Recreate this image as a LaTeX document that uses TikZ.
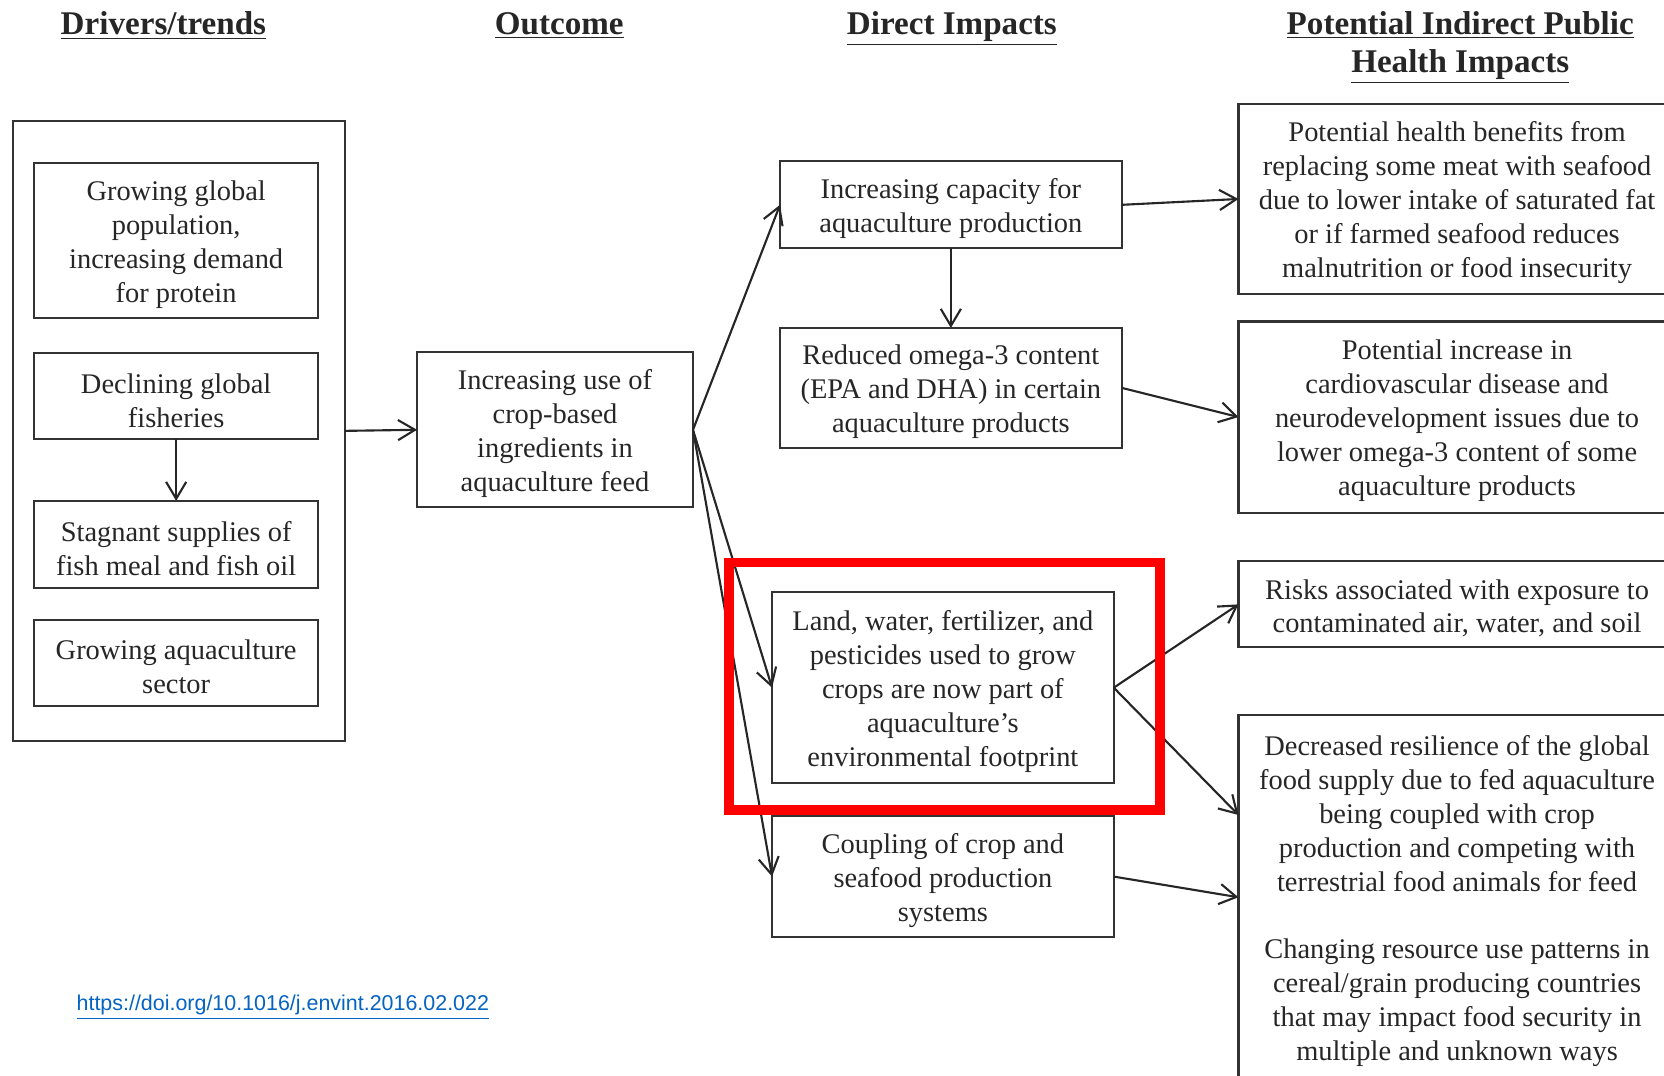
\documentclass[tikz,border=0pt]{standalone}
\usepackage{fontspec}
\setmainfont{Liberation Serif}
\newfontfamily\linkfont{Liberation Sans}
\usetikzlibrary{positioning,arrows.meta,calc}
\newcommand{\bodyfont}{\fontsize{13.4}{16}\selectfont}
\newcommand{\headfont}{\fontsize{15.6}{18}\selectfont\bfseries}
\newcommand{\lift}{\rule{0pt}{13pt}}
\def\driverwidth{134pt}
\def\directwidth{161pt}
\def\healthwidth{206pt}
\tikzstyle{signal}=[arrows={-Straight Barb[length=8pt,width=9.5pt]},draw=black!85,line width=1pt]
\tikzstyle{block}=[draw=black!80,line width=1.0pt]
\tikzstyle{box}=[style=block, inner sep=2pt, outer sep=0pt,
    font=\bodyfont, text=black!85, align=center]
\tikzstyle{driver}=[style=box, minimum width=\driverwidth]
\tikzstyle{outcome}=[style=box, minimum width=130pt]
\tikzstyle{direct}=[style=box, minimum width=\directwidth]
\tikzstyle{health}=[style=box, minimum width=\healthwidth]
\tikzstyle{heading}=[font=\headfont, text=black!85, align=center]
\colorlet{focus}{red}
\definecolor{link}{HTML}{0563C1}

\begin{document}
\begin{tikzpicture}[x=0.5pt, y=-0.5pt]
    \useasboundingbox (0,0) rectangle (1568,1013);
    \clip (0,0) rectangle (1568,1013);
    % headings
    \node[heading] (hdriver) at (154,24) {\underline{Drivers/trends}};
    \node[heading] (houtcome) at (527,24) {\underline{Outcome}};
    \node[heading] (hdirect) at (897,27) {\underline{Direct Impacts}};
    \node[heading] (hhealth) at (1376,45) {\underline{Potential Indirect Public}\\\underline{Health Impacts}};
    % drivers/trends
    \node[block, outer sep=0pt, minimum width=156.5pt, minimum height=292pt] (drivers) at (168.5,406) {};
    \node[driver, minimum height=73pt] (population) at (166,227) {\lift Growing global\\population,\\increasing demand\\for protein};
    \node[driver, minimum height=40.5pt, below=16.5pt of population] (fisheries) {\lift Declining global\\fisheries};
    \node[driver, minimum height=41pt, below=29pt of fisheries] (fishmeal) {\lift Stagnant supplies of\\fish meal and fish oil};
    \node[driver, minimum height=40.5pt, below=15pt of fishmeal] (sector) {\lift Growing aquaculture\\sector};
    % outcome
    \node[outcome, minimum height=73pt] (cropfeed) at (523,405) {\lift Increasing use of\\crop-based\\ingredients in\\aquaculture feed};
    % direct impacts
    \node[direct, minimum height=41pt] (capacity) at (896,193) {\lift Increasing capacity for\\aquaculture production};
    \node[direct, minimum height=56.5pt, below=37.5pt of capacity] (omega) {\lift Reduced omega-3 content\\(EPA and DHA) in certain\\aquaculture products};
    \node[direct, minimum height=90pt] (land) at (888.5,648) {\lift Land, water, fertilizer, and\\pesticides used to grow\\crops are now part of\\aquaculture’s\\environmental footprint};
    \node[direct, minimum height=57pt, below=15.5pt of land] (coupling) {\lift Coupling of crop and\\seafood production\\systems};
    % potential indirect public health impacts
    \node[health, minimum height=89.5pt] (benefits) at (1373,187.5) {\lift Potential health benefits from\\replacing some meat with seafood\\due to lower intake of saturated fat\\or if farmed seafood reduces\\malnutrition or food insecurity};
    \node[health, minimum height=90pt, below=13pt of benefits] (cardio) {\lift Potential increase in\\cardiovascular disease and\\neurodevelopment issues due to\\lower omega-3 content of some\\aquaculture products};
    \node[health, minimum height=40.5pt, below=23pt of cardio] (risks) {\lift Risks associated with exposure to\\contaminated air, water, and soil};
    \node[health, minimum height=171.5pt, below=32pt of risks] (resilience) {\lift Decreased resilience of the global\\food supply due to fed aquaculture\\being coupled with crop\\production and competing with\\terrestrial food animals for feed\\[16pt]Changing resource use patterns in\\cereal/grain producing countries\\that may impact food security in\\multiple and unknown ways};
    % connectors
    \draw[signal] (drivers.east) -- (cropfeed.west);
    \draw[signal] (fisheries.south) -- (fishmeal.north);
    \draw[signal] (cropfeed.east) -- (capacity.west);
    \draw[signal] (cropfeed.east) -- (land.west);
    \draw[signal] (cropfeed.east) -- (coupling.west);
    \draw[signal] (capacity.south) -- (omega.north);
    \draw[signal] (capacity.east) -- (benefits.west);
    \draw[signal] (omega.east) -- (cardio.west);
    \draw[signal] (land.east) -- (risks.west);
    \draw[signal] (land.east) -- ($(resilience.north west)!0.274!(resilience.south west)$);
    \draw[signal] (coupling.east) -- (resilience.west);
    % highlight
    \node[draw=focus, line width=4.5pt, minimum width=203pt, minimum height=116.5pt] (highlight) at (890,646.5) {};
    % source
    \node[font=\linkfont\fontsize{10.1}{12}\selectfont, text=link] (doi) at (266.5,949) {\underline{https://doi.org/10.1016/j.envint.2016.02.022}};
\end{tikzpicture}
\end{document}
